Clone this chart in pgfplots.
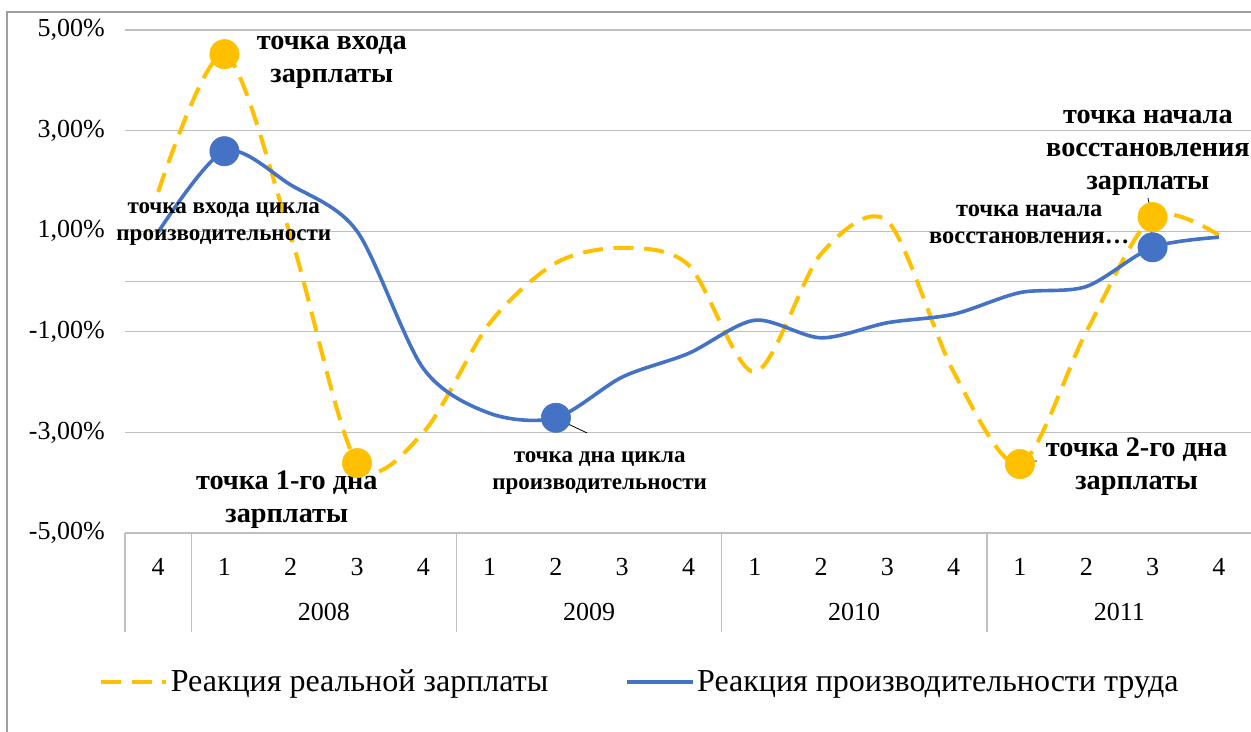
\documentclass[border=0pt]{standalone}
\usepackage{fontspec}
\setmainfont{Liberation Serif}
\usepackage{pgfplots}
\pgfplotsset{compat=1.18}
\definecolor{wage}{HTML}{FFC000}
\definecolor{prod}{HTML}{4472C4}
\definecolor{gridc}{RGB}{191,191,191}
\newcommand{\biglab}{\fontsize{21.2}{24.75}\selectfont\bfseries}
\newcommand{\smalllab}{\fontsize{17.3}{20.25}\selectfont\bfseries}
\newcommand{\midlab}{\fontsize{18.3}{20.25}\selectfont\bfseries}
\begin{document}
\begin{tikzpicture}[x=1pt,y=1pt]
\useasboundingbox (0,0) rectangle (938.25,548.25);
\draw[gray!75, line width=0.8pt] (5.25,-10) rectangle (960,539.25);
\begin{axis}[
  at={(93.75pt,148.5pt)}, anchor=south west,
  scale only axis, width=845.25pt, height=377.25pt,
  xmin=-0.5, xmax=16.5, ymin=-5, ymax=5,
  axis line style={draw=none},
  xtick={0,...,16},
  xticklabels={4,1,2,3,4,1,2,3,4,1,2,3,4,1,2,3,4},
  ytick={-5,-3,-1,1,3,5},
  yticklabels={{-5,00\%},{-3,00\%},{-1,00\%},{1,00\%},{3,00\%},{5,00\%}},
  major tick length=0pt,
  ymajorgrids, major grid style={gridc, line width=1pt},
  tick label style={font=\fontsize{19.5}{23}\selectfont},
  xticklabel style={anchor=center, inner sep=0pt, yshift=-25.5pt},
  yticklabel style={anchor=east, inner sep=0pt, xshift=-15pt},
  clip=false,
  legend style={at={(axis description cs:0.457,-0.296)}, anchor=center, draw=none, fill=none,
    legend columns=2, font=\fontsize{24}{28}\selectfont,
    /tikz/every even column/.append style={column sep=56pt}},
  legend image code/.code={\draw[#1] (0pt,0pt) -- (49pt,0pt);},
]
% category table
\draw[gridc, line width=1pt] (axis cs:-0.5,0) -- (axis cs:16.5,0);
\draw[gridc, line width=1pt] (axis cs:-0.5,-5) -- ([yshift=-74.25pt]axis cs:-0.5,-5);
\draw[gridc, line width=1pt] (axis cs:0.5,-5) -- ([yshift=-74.25pt]axis cs:0.5,-5);
\draw[gridc, line width=1pt] (axis cs:4.5,-5) -- ([yshift=-74.25pt]axis cs:4.5,-5);
\draw[gridc, line width=1pt] (axis cs:8.5,-5) -- ([yshift=-74.25pt]axis cs:8.5,-5);
\draw[gridc, line width=1pt] (axis cs:12.5,-5) -- ([yshift=-74.25pt]axis cs:12.5,-5);
\node[font=\fontsize{19.5}{23}\selectfont] at ([yshift=-59.25pt]axis cs:2.5,-5) {2008};
\node[font=\fontsize{19.5}{23}\selectfont] at ([yshift=-59.25pt]axis cs:6.5,-5) {2009};
\node[font=\fontsize{19.5}{23}\selectfont] at ([yshift=-59.25pt]axis cs:10.5,-5) {2010};
\node[font=\fontsize{19.5}{23}\selectfont] at ([yshift=-59.25pt]axis cs:14.5,-5) {2011};

\addplot[wage, line width=3pt, dash pattern=on 15pt off 8pt, smooth, tension=0.5] coordinates {
 (0,1.78) (1,4.52) (2,0.9) (3,-3.61) (4,-3.0) (5,-0.83) (6,0.37) (7,0.67) (8,0.33)
 (9,-1.8) (10,0.55) (11,1.2) (12,-1.8) (13,-3.63) (14,-1.0) (15,1.28) (16,0.92)};
\addlegendentry{Реакция реальной зарплаты}
\addplot[prod, line width=2.7pt, smooth, tension=0.5] coordinates {
 (0,0.98) (1,2.59) (2,1.92) (3,1.0) (4,-1.73) (5,-2.62) (6,-2.71) (7,-1.9) (8,-1.43)
 (9,-0.77) (10,-1.12) (11,-0.82) (12,-0.65) (13,-0.22) (14,-0.1) (15,0.68) (16,0.88)};
\addlegendentry{Реакция производительности труда}
\addplot[only marks, mark=*, mark size=11pt, color=wage, forget plot] coordinates {
 (1,4.52) (3,-3.61) (13,-3.63) (15,1.28)};
\addplot[only marks, mark=*, mark size=11pt, color=prod, forget plot] coordinates {
 (1,2.59) (6,-2.71) (15,0.68)};

% leader lines
\draw[black, line width=0.6pt] (axis cs:6.016,-2.73) -- (axis cs:6.469,-3.01);
\draw[black, line width=0.6pt] (axis cs:13.015,-3.67) -- (axis cs:13.106,-3.57) -- (axis cs:13.257,-3.57);
\draw[black, line width=0.6pt] (axis cs:14.93,1.66) -- (axis cs:15.006,1.22);
\draw[black, line width=0.6pt] (axis cs:14.78,1.22) -- (axis cs:14.96,1.22) -- (axis cs:15.006,0.67);

% data labels
\node[align=center, font=\biglab, inner sep=0pt] at (axis cs:2.62,4.36) {точка входа\\зарплаты};
\node[align=center, font=\smalllab, inner sep=0pt] at (axis cs:0.99,1.14) {точка входа цикла\\производительности};
\node[align=center, font=\biglab, inner sep=0pt] at (axis cs:1.94,-4.34) {точка 1-го дна\\зарплаты};
\node[align=center, font=\smalllab, inner sep=0pt] at (axis cs:6.66,-3.81) {точка дна цикла\\производительности};
\node[align=center, font=\biglab, inner sep=0pt] at (axis cs:14.76,-3.69) {точка 2-го дна\\зарплаты};
\node[align=center, font=\biglab, inner sep=0pt] at (axis cs:14.93,2.55) {точка начала\\восстановления\\зарплаты};
\node[align=center, font=\midlab, inner sep=0pt] at (axis cs:13.14,1.14) {точка начала\\восстановления…};
\end{axis}
\end{tikzpicture}
\end{document}
